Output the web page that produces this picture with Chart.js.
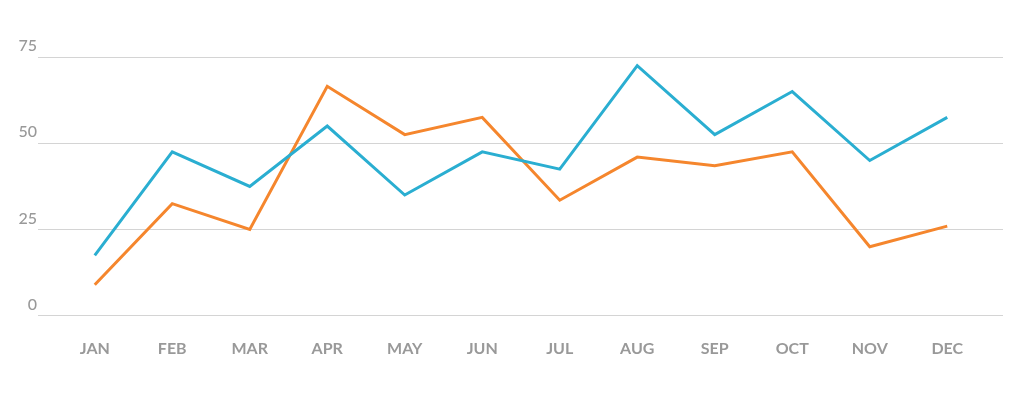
<!DOCTYPE html>
<html>
<head>
<meta charset="utf-8">
<script src="https://cdn.jsdelivr.net/npm/chart.js@4.4.1/dist/chart.umd.min.js"></script>
<style>
  html, body { margin: 0; padding: 0; background: #fff; }
  #wrap { width: 1024px; height: 397px; }
</style>
</head>
<body>
<div id="wrap"><canvas id="chart" width="1024" height="397"></canvas></div>
<script>
// data
const MONTHS = ["JAN", "FEB", "MAR", "APR", "MAY", "JUN", "JUL", "AUG", "SEP", "OCT", "NOV", "DEC"];
const BLUE_SERIES = [17.5, 47.5, 37.5, 55, 35, 47.5, 42.5, 72.5, 52.5, 65, 45, 57.5];
const ORANGE_SERIES = [9, 32.5, 25, 66.5, 52.5, 57.5, 33.5, 46, 43.5, 47.5, 20, 26];
const Y_TICKS = [0, 25, 50, 75];

const FONT = 'Lato, "Open Sans", Arial, sans-serif';
const COLOR_LABEL = "#999999";
const COLOR_GRID = "#d4d4d4";

new Chart(document.getElementById("chart"), {
  type: "line",
  data: {
    labels: MONTHS,
    datasets: [
      { label: "Blue", data: BLUE_SERIES, borderColor: "#2aaed1", borderWidth: 3, pointRadius: 0, tension: 0, fill: false },
      { label: "Orange", data: ORANGE_SERIES, borderColor: "#f5862d", borderWidth: 3, pointRadius: 0, tension: 0, fill: false },
    ],
  },
  options: {
    responsive: false,
    animation: false,
    layout: { padding: { top: 57, right: 21, bottom: 24, left: 0 } },
    plugins: { legend: { display: false }, tooltip: { enabled: false } },
    scales: {
      x: {
        offset: true,
        grid: { display: false },
        border: { display: false },
        ticks: { color: COLOR_LABEL, padding: 15, maxRotation: 0, font: { family: FONT, size: 16, weight: "bold" } },
      },
      y: {
        min: 0, max: 75,
        afterBuildTicks: (s) => { s.ticks = Y_TICKS.map((v) => ({ value: v })); },
        afterFit: (s) => { s.width = 56; },
        grid: { color: COLOR_GRID, lineWidth: 1, drawTicks: true, tickLength: 18 },
        border: { display: false },
        ticks: { color: COLOR_LABEL, padding: 1, labelOffset: -11, font: { family: FONT, size: 16, weight: "500" } },
      },
      yRight: {
        position: "right",
        min: 0, max: 75,
        afterBuildTicks: (s) => { s.ticks = Y_TICKS.map((v) => ({ value: v })); },
        afterFit: (s) => { s.width = 17; },
        grid: { color: COLOR_GRID, lineWidth: 1, drawOnChartArea: false, drawTicks: true, tickLength: 17 },
        border: { display: false },
        ticks: { display: false },
      },
    },
  },
});
</script>
</body>
</html>
